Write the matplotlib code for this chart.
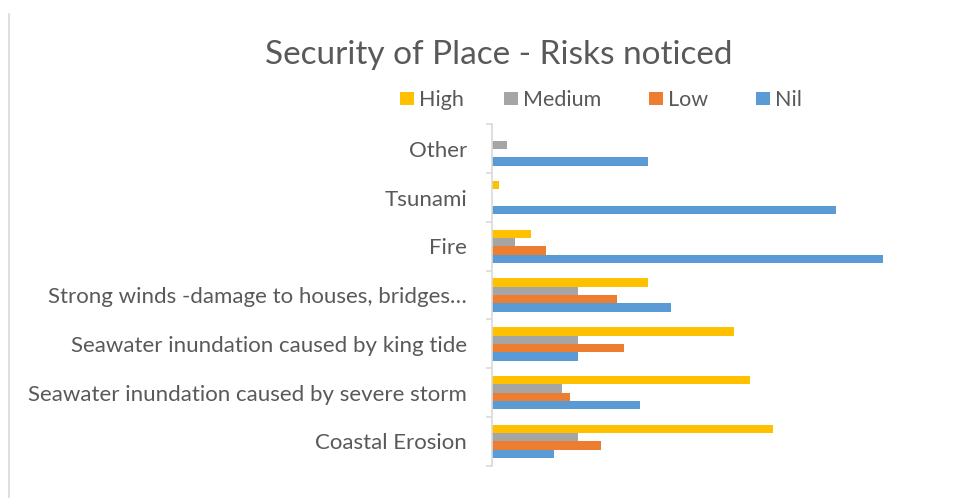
import matplotlib
matplotlib.use("Agg")
import matplotlib.pyplot as plt
import numpy as np
from matplotlib.lines import Line2D
from matplotlib.patches import Rectangle

categories = [
    "Coastal Erosion",
    "Seawater inundation caused by severe storm",
    "Seawater inundation caused by king tide",
    "Strong winds -damage to houses, bridges\u2026",
    "Fire",
    "Tsunami",
    "Other",
]
series_names = ["High", "Medium", "Low", "Nil"]
high = [36, 33, 31, 20, 5, 1, 0]
medium = [11, 9, 11, 11, 3, 0, 2]
low = [14, 10, 17, 16, 7, 0, 0]
nil = [8, 19, 11, 23, 50, 44, 20]
colors = ["#FFC000", "#A5A5A5", "#ED7D31", "#5B9BD5"]

text_color = "#595959"
axis_color = "#D9D9D9"
font = ["Lato", "DejaVu Sans"]

W, H = 977, 498
fig = plt.figure(figsize=(W / 100, H / 100), dpi=100)

# plot area in pixel units
left_px, right_px = 491.5, 960.7
top_px, bottom_px = 124.5, 465.7
ax = fig.add_axes([left_px / W, 1 - bottom_px / H,
                   (right_px - left_px) / W, (bottom_px - top_px) / H])

y = np.arange(len(categories))
h = 0.171
offsets = [1.5 * h, 0.5 * h, -0.5 * h, -1.5 * h]
for vals, off, col, name in zip([high, medium, low, nil], offsets, colors, series_names):
    ax.barh(y + off, vals, height=h, color=col, label=name, linewidth=0)

ax.set_xlim(0, 60)
ax.set_ylim(-0.5, len(categories) - 0.5)
ax.set_xticks([])
ax.set_yticks(y)
ax.set_yticklabels(categories, fontsize=16, color=text_color, family=font)
ax.tick_params(axis="y", which="major", length=0, pad=17.6)
ax.set_yticks(np.arange(-0.5, len(categories), 1.0), minor=True)
ax.tick_params(axis="y", which="minor", length=4, width=1.2, color=axis_color, direction="out")
for s in ["top", "right", "bottom"]:
    ax.spines[s].set_visible(False)
ax.spines["left"].set_color(axis_color)
ax.spines["left"].set_linewidth(1.2)

fig.text(499 / W, 1 - 64.3 / H, "Security of Place - Risks noticed", ha="center", va="baseline",
         fontsize=24, color=text_color, family=font)

# legend: colour squares followed by series names
legend_x = [400, 504, 649, 756]
for x0, col, name in zip(legend_x, colors, series_names):
    fig.add_artist(Rectangle((x0 / W, 1 - 105.5 / H), 13.5 / W, 13.5 / H,
                             transform=fig.transFigure, color=col, linewidth=0))
    fig.text((x0 + 19) / W, 1 - 106 / H, name, ha="left", va="baseline",
             fontsize=15.5, color=text_color, family=font)

# outer frame line at the left edge
fig.add_artist(Line2D([8.5 / W, 8.5 / W], [0, 1 - 14 / H], transform=fig.transFigure,
                      color=axis_color, linewidth=1.2))

fig.savefig("out.png", dpi=100)
